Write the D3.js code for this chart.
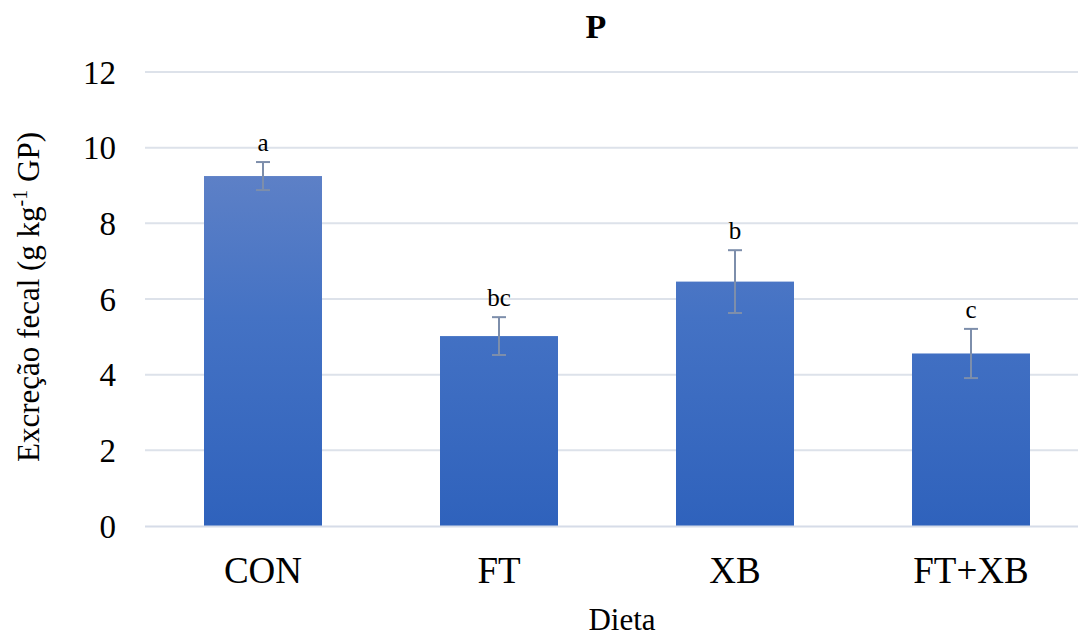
<!DOCTYPE html>
<html>
<head>
<meta charset="utf-8">
<script src="https://cdn.jsdelivr.net/npm/d3@7"></script>
<style>
  body { margin: 0; background: #fff; font-family: "Liberation Serif", "Times New Roman", serif; }
  svg, svg text { font-family: "Liberation Serif", "Times New Roman", serif; }
</style>
</head>
<body>
<svg id="chart" width="1078" height="637"></svg>
<script>
// data
const categories = ["CON", "FT", "XB", "FT+XB"];
const values = [9.25, 5.02, 6.46, 4.56];
const errors = [0.37, 0.5, 0.83, 0.65];
const letters = ["a", "bc", "b", "c"];
const yTicks = [0, 2, 4, 6, 8, 10, 12];

const FONT = '"Liberation Serif", "Times New Roman", serif';

const svg = d3.select("#chart").style("font-family", FONT);

const x = d3.scaleBand()
    .domain(categories)
    .range([145, 1089])
    .paddingInner(0.5)
    .paddingOuter(0.25);

const y = d3.scaleLinear()
    .domain([0, 12])
    .range([526, 72]);

// gradient for bars
const defs = svg.append("defs");
const grad = defs.append("linearGradient")
    .attr("id", "barGrad")
    .attr("gradientUnits", "userSpaceOnUse")
    .attr("x1", 0).attr("x2", 0)
    .attr("y1", y(10)).attr("y2", y(0));
grad.append("stop").attr("offset", "0%").attr("stop-color", "#6283c7");
grad.append("stop").attr("offset", "45%").attr("stop-color", "#4472c4");
grad.append("stop").attr("offset", "100%").attr("stop-color", "#2f62bc");

// gridlines
svg.append("g")
    .selectAll("line")
    .data(yTicks.filter(d => d > 0))
    .enter().append("line")
    .attr("x1", 145).attr("x2", 1078)
    .attr("y1", d => y(d)).attr("y2", d => y(d))
    .attr("stroke", "#dde2ea")
    .attr("stroke-width", 2);

// y tick labels
svg.append("g")
    .selectAll("text")
    .data(yTicks)
    .enter().append("text")
    .attr("x", 116)
    .attr("y", d => y(d))
    .attr("dy", "0.35em")
    .attr("text-anchor", "end")
    .style("font-family", FONT)
    .style("font-size", "33px")
    .text(d => d);

// bars
svg.append("g")
    .selectAll("rect")
    .data(values)
    .enter().append("rect")
    .attr("x", (d, i) => x(categories[i]))
    .attr("width", x.bandwidth())
    .attr("y", d => y(d))
    .attr("height", d => y(0) - y(d))
    .attr("fill", "url(#barGrad)");

// baseline
svg.append("line")
    .attr("x1", 145).attr("x2", 1078)
    .attr("y1", y(0) + 0.5).attr("y2", y(0) + 0.5)
    .attr("stroke", "#d6dce8")
    .attr("stroke-width", 2);

// error bars
const eb = svg.append("g")
    .attr("stroke", "#7d8eab")
    .attr("stroke-width", 2);
values.forEach((v, i) => {
    const cx = x(categories[i]) + x.bandwidth() / 2;
    const lo = y(v - errors[i]), hi = y(v + errors[i]);
    eb.append("line").attr("x1", cx).attr("x2", cx).attr("y1", lo).attr("y2", hi);
    eb.append("line").attr("x1", cx - 7).attr("x2", cx + 7).attr("y1", hi).attr("y2", hi);
    eb.append("line").attr("x1", cx - 7).attr("x2", cx + 7).attr("y1", lo).attr("y2", lo);
});

// significance letters
svg.append("g")
    .selectAll("text")
    .data(letters)
    .enter().append("text")
    .attr("x", (d, i) => x(categories[i]) + x.bandwidth() / 2)
    .attr("y", (d, i) => y(values[i] + errors[i]) - 11)
    .attr("text-anchor", "middle")
    .style("font-family", FONT)
    .style("font-size", "25px")
    .text(d => d);

// category labels
svg.append("g")
    .selectAll("text")
    .data(categories)
    .enter().append("text")
    .attr("x", d => x(d) + x.bandwidth() / 2)
    .attr("y", 583)
    .attr("text-anchor", "middle")
    .style("font-family", FONT)
    .style("font-size", "37px")
    .text(d => d);

// title
svg.append("text")
    .attr("x", 596).attr("y", 38)
    .attr("text-anchor", "middle")
    .style("font-family", FONT)
    .style("font-size", "34px")
    .style("font-weight", "bold")
    .text("P");

// x axis title
svg.append("text")
    .attr("x", 622).attr("y", 630)
    .attr("text-anchor", "middle")
    .style("font-family", FONT)
    .style("font-size", "31px")
    .text("Dieta");

// y axis title
const yt = svg.append("text")
    .attr("transform", "translate(39,297) rotate(-90)")
    .attr("text-anchor", "middle")
    .style("font-family", FONT)
    .style("font-size", "31px");
yt.append("tspan").text("Excreção fecal (g kg");
yt.append("tspan").attr("dy", -12).style("font-size", "20px").text("-1");
yt.append("tspan").attr("dy", 12).text(" GP)");
</script>
</body>
</html>
